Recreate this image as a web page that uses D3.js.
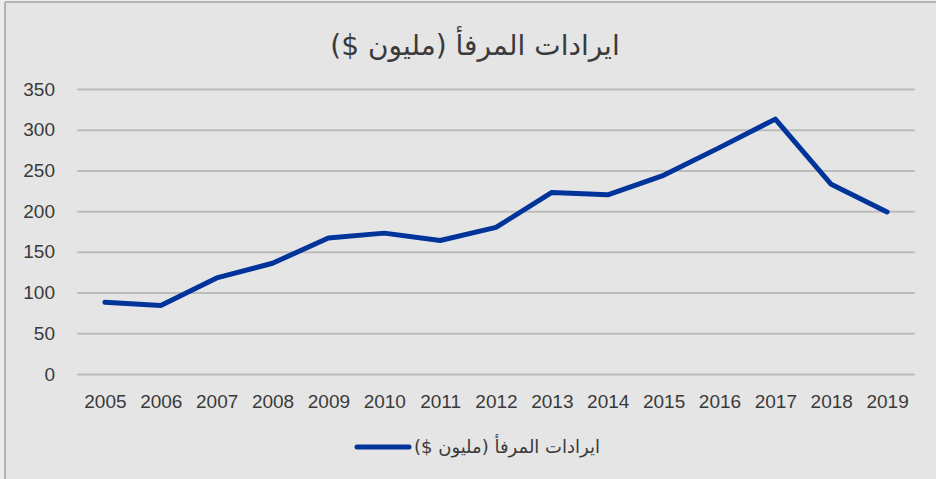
<!DOCTYPE html>
<html>
<head>
<meta charset="utf-8">
<script src="https://cdn.jsdelivr.net/npm/d3@7"></script>
<style>
  body { margin: 0; background: #ececec; }
  svg { display: block; }
</style>
</head>
<body>
<svg id="chart" width="936" height="479"></svg>
<script>
// Chart data.
const years = ["2005", "2006", "2007", "2008", "2009", "2010", "2011", "2012",
               "2013", "2014", "2015", "2016", "2017", "2018", "2019"];
const revenue = [88, 84, 118, 136, 167, 173, 164, 180, 223, 220, 244, 278, 313, 233, 199];
const yTicks = [0, 50, 100, 150, 200, 250, 300, 350];
const titleText = "ايرادات المرفأ (مليون $)";
const seriesName = "ايرادات المرفأ (مليون $)";

document.addEventListener("DOMContentLoaded", () => {

    const svg = d3.select("#chart");
    const W = 936, H = 479;
    const margin = { left: 77, right: 21, top: 89, bottom: 105 };

    // Panel background with the thin border top / left.
    svg.append("rect")
        .attr("x", 5).attr("y", 2)
        .attr("width", W - 5).attr("height", H - 2)
        .attr("fill", "#e5e5e5");
    svg.append("line")
        .attr("x1", 5).attr("x2", 5).attr("y1", 2).attr("y2", H)
        .attr("stroke", "#b4b4b4").attr("stroke-width", 2);
    svg.append("line")
        .attr("x1", 5).attr("x2", W).attr("y1", 2).attr("y2", 2)
        .attr("stroke", "#b4b4b4").attr("stroke-width", 2);

    const x = d3.scalePoint()
        .domain(years)
        .range([margin.left, W - margin.right])
        .padding(0.5);

    const y = d3.scaleLinear()
        .domain([0, 350])
        .range([H - margin.bottom, margin.top]);

    // Gridlines and y labels.
    const yAxis = svg.append("g")
        .attr("transform", `translate(${margin.left},0)`)
        .call(d3.axisLeft(y)
            .tickValues(yTicks)
            .tickSize(-(W - margin.left - margin.right))
            .tickPadding(22));
    yAxis.select(".domain").remove();
    yAxis.selectAll(".tick line")
        .attr("stroke", "#bcbcbc")
        .attr("stroke-width", 2);
    yAxis.selectAll(".tick text")
        .attr("fill", "#3a3a3a")
        .style("font-family", "'Liberation Sans', Arial, sans-serif")
        .style("font-size", "19px");

    // X labels.
    const xAxis = svg.append("g")
        .attr("transform", `translate(0,${H - margin.bottom})`)
        .call(d3.axisBottom(x).tickSize(0).tickPadding(21));
    xAxis.select(".domain").remove();
    xAxis.selectAll(".tick text")
        .attr("fill", "#3a3a3a")
        .style("font-family", "'Liberation Sans Narrow', 'Liberation Sans', sans-serif")
        .style("font-size", "19px");

    // The revenue line.
    const line = d3.line()
        .x((d, i) => x(years[i]))
        .y((d) => y(d));

    svg.append("path")
        .datum(revenue)
        .attr("d", line)
        .attr("fill", "none")
        .attr("stroke", "#00349b")
        .attr("stroke-width", 5)
        .attr("stroke-linejoin", "round")
        .attr("stroke-linecap", "round");

    // Title.
    svg.append("text")
        .attr("x", 475)
        .attr("y", 55)
        .attr("text-anchor", "middle")
        .attr("direction", "rtl")
        .attr("fill", "#3a3a3a")
        .style("font-family", "'DejaVu Sans', sans-serif")
        .style("font-size", "28px")
        .text(titleText);

    // Legend.
    svg.append("line")
        .attr("x1", 357).attr("x2", 409)
        .attr("y1", 447).attr("y2", 447)
        .attr("stroke", "#00349b")
        .attr("stroke-width", 5)
        .attr("stroke-linecap", "round");
    svg.append("text")
        .attr("x", 600)
        .attr("y", 453)
        .attr("text-anchor", "start")
        .attr("direction", "rtl")
        .attr("fill", "#3a3a3a")
        .style("font-family", "'DejaVu Sans', sans-serif")
        .style("font-size", "18px")
        .text(seriesName);
});
</script>
</body>
</html>
